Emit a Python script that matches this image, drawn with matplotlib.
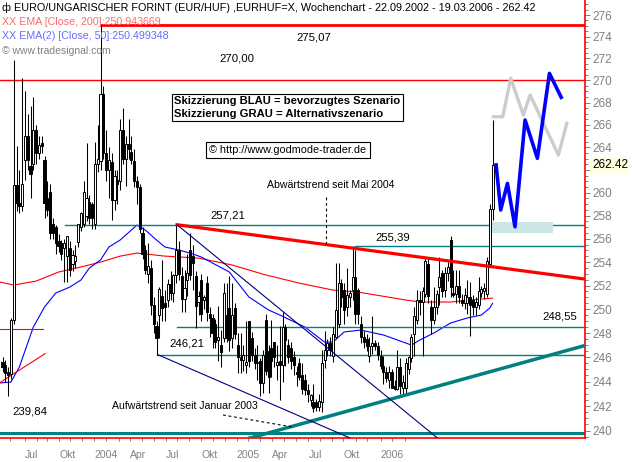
"""EUR/HUF weekly candlestick chart with trend lines and scenario sketch."""

import matplotlib
matplotlib.use("Agg")
import matplotlib.pyplot as plt
import numpy as np
from matplotlib.ticker import FixedLocator, NullFormatter, FuncFormatter
from matplotlib.transforms import blended_transform_factory

plt.rcParams["font.family"] = ["Liberation Sans", "DejaVu Sans"]

# weekly candles (index 0 = first visible week)
opens = [
    245.6, 245.4, 244.8, 244.6, 249.1, 260.7, 259.1, 258.8, 262.9, 265.0,
    262.3, 262.5, 265.5, 263.5, 264.4, 262.9, 259.5, 260.1, 257.3, 257.0,
    255.8, 255.6, 255.2, 254.5, 255.2, 253.8, 254.1, 255.7, 257.0, 257.3,
    258.0, 259.2, 259.0, 257.3, 262.5, 262.8, 268.8, 263.5, 262.0, 262.7,
    259.4, 261.1, 261.0, 265.5, 263.0, 264.3, 263.6, 262.8, 261.0, 260.5,
    256.5, 255.0, 253.0, 253.5, 250.4, 248.6, 249.5, 251.1, 250.5, 250.8,
    252.1, 251.4, 252.9, 255.0, 252.8, 250.9, 252.5, 255.0, 254.5, 252.8,
    250.6, 252.5, 250.8, 252.2, 249.6, 249.3, 248.8, 247.4, 247.0, 247.6,
    249.5, 250.1, 247.6, 250.1, 247.0, 246.0, 245.8, 245.4, 249.0, 247.6,
    246.2, 245.5, 245.7, 243.9, 249.1, 246.5, 246.8, 247.3, 245.4, 245.7,
    245.4, 248.5, 247.0, 246.8, 246.0, 244.8, 245.5, 244.5, 244.1, 243.3,
    242.5, 242.3, 242.3, 241.9, 242.3, 245.8, 246.6, 247.2, 246.1, 247.7,
    248.8, 252.2, 251.6, 250.2, 251.0, 251.6, 252.75, 251.6, 248.8, 247.7,
    247.5, 246.1, 246.9, 247.2, 246.9, 246.1, 245.3, 244.8, 244.1, 244.8,
    243.6, 243.4, 245.2, 243.5, 243.5, 245.0, 245.9, 247.9, 249.1, 250.8,
    250.6, 251.3, 253.8, 250.2, 249.1, 250.2, 251.9, 253.1, 251.6, 253.1,
    255.9, 251.4, 251.3, 252.0, 250.8, 250.5, 250.5, 251.0, 250.8, 250.2,
    250.4, 251.4, 251.5, 251.3, 253.8, 258.6,
]
highs = [
    246.0, 245.8, 245.2, 249.3, 271.9, 264.1, 262.0, 270.2, 269.0, 267.0,
    267.7, 268.5, 266.0, 265.0, 265.0, 263.2, 261.0, 260.8, 257.8, 257.2,
    256.4, 255.9, 256.0, 256.2, 255.8, 255.0, 255.5, 257.3, 258.3, 261.0,
    264.4, 259.8, 259.2, 264.5, 266.0, 275.07, 269.5, 265.5, 264.0, 263.5,
    262.0, 262.0, 266.5, 267.5, 265.0, 266.5, 265.0, 263.8, 261.5, 260.8,
    257.0, 255.5, 255.6, 254.2, 251.0, 249.0, 251.9, 254.2, 251.6, 252.6,
    253.2, 253.0, 257.21, 255.8, 253.6, 253.3, 254.7, 256.5, 255.5, 253.2,
    251.5, 253.0, 251.2, 252.8, 250.2, 249.6, 249.2, 250.3, 248.3, 252.2,
    252.2, 252.8, 252.2, 250.5, 248.0, 248.0, 247.0, 249.0, 249.0, 248.1,
    246.8, 247.0, 245.9, 246.6, 249.6, 247.0, 249.1, 247.3, 247.0, 248.6,
    249.8, 248.8, 247.5, 247.3, 246.5, 245.3, 245.9, 245.5, 244.6, 243.8,
    243.0, 243.8, 242.6, 243.0, 246.6, 248.2, 247.5, 247.7, 248.5, 253.9,
    253.9, 252.6, 252.2, 253.5, 251.6, 255.39, 255.0, 251.8, 249.4, 248.2,
    247.9, 247.7, 249.4, 247.4, 247.3, 246.6, 246.1, 245.2, 245.3, 245.0,
    244.1, 246.6, 245.9, 244.5, 245.9, 246.1, 247.9, 250.2, 251.6, 251.5,
    251.9, 254.4, 254.4, 250.8, 251.9, 251.6, 254.4, 253.3, 253.6, 254.0,
    256.2, 253.3, 253.3, 253.3, 251.3, 251.8, 252.5, 252.3, 251.2, 251.0,
    252.75, 252.0, 252.2, 254.4, 259.0, 266.4,
]
lows = [
    244.8, 244.0, 242.8, 244.2, 248.8, 258.4, 258.2, 258.4, 261.1, 262.0,
    259.5, 262.0, 262.5, 263.0, 263.5, 257.8, 258.0, 256.0, 256.0, 254.7,
    254.9, 254.2, 252.3, 252.3, 252.8, 253.2, 253.5, 255.3, 256.7, 257.0,
    257.5, 257.3, 256.8, 256.8, 261.8, 262.0, 263.0, 261.0, 259.5, 257.6,
    258.5, 259.0, 260.2, 262.5, 260.6, 263.0, 262.5, 260.5, 259.0, 256.5,
    254.3, 253.0, 252.2, 249.5, 248.0, 246.21, 247.6, 249.0, 249.0, 250.2,
    250.8, 250.6, 252.2, 252.5, 249.8, 249.8, 251.1, 252.5, 251.6, 248.4,
    249.5, 249.0, 250.0, 249.0, 247.7, 246.8, 246.8, 245.7, 245.2, 247.3,
    247.3, 246.5, 246.8, 247.5, 244.7, 244.7, 244.9, 244.7, 245.2, 245.7,
    245.0, 244.1, 242.8, 243.1, 244.5, 243.1, 244.4, 245.2, 244.1, 242.5,
    244.0, 245.3, 245.5, 245.0, 244.5, 243.6, 244.1, 243.0, 242.9, 242.3,
    242.0, 241.5, 241.6, 241.6, 241.5, 245.1, 246.1, 246.1, 245.6, 247.5,
    248.5, 250.2, 248.8, 249.4, 250.2, 250.8, 248.8, 248.8, 247.2, 246.8,
    246.5, 245.6, 246.3, 246.6, 245.8, 245.0, 243.8, 244.0, 243.5, 243.5,
    243.3, 243.3, 243.0, 243.0, 243.0, 244.6, 245.6, 246.1, 248.8, 249.5,
    246.1, 251.0, 250.5, 247.9, 248.8, 249.6, 250.4, 251.0, 251.0, 252.4,
    251.0, 251.0, 250.5, 250.5, 250.3, 250.0, 249.6, 247.8, 249.5, 249.5,
    250.0, 251.0, 250.9, 251.0, 253.6, 257.6,
]
closes = [
    245.2, 244.7, 244.5, 249.1, 260.7, 259.1, 258.8, 260.8, 265.0, 262.9,
    261.6, 265.5, 263.5, 264.2, 264.1, 259.1, 258.5, 256.5, 256.5, 255.6,
    255.4, 254.7, 255.6, 256.2, 253.3, 254.6, 254.5, 257.3, 258.2, 260.1,
    259.5, 257.8, 257.8, 262.5, 263.0, 268.8, 263.5, 262.0, 262.9, 259.4,
    261.5, 260.8, 265.5, 263.0, 264.3, 263.8, 262.9, 261.0, 260.5, 256.8,
    254.7, 253.3, 253.7, 250.4, 248.8, 247.6, 251.7, 250.1, 250.2, 252.1,
    251.4, 252.9, 255.0, 253.0, 250.9, 251.8, 253.1, 252.9, 253.9, 250.3,
    251.1, 249.6, 251.0, 249.8, 249.3, 248.0, 247.3, 247.7, 246.4, 251.4,
    247.6, 247.4, 249.5, 247.9, 246.0, 245.8, 246.2, 245.6, 245.7, 246.2,
    245.5, 245.6, 243.9, 246.2, 244.9, 244.4, 245.7, 246.0, 245.6, 245.4,
    248.5, 247.4, 246.0, 245.7, 245.4, 244.6, 244.4, 243.4, 243.3, 243.0,
    242.9, 241.8, 241.9, 242.4, 245.5, 246.6, 247.2, 246.6, 247.9, 249.9,
    252.2, 251.0, 249.9, 251.2, 251.4, 252.75, 249.6, 249.6, 247.7, 247.3,
    246.9, 246.9, 247.2, 246.9, 246.2, 245.3, 244.8, 244.3, 244.8, 243.5,
    243.4, 245.2, 243.6, 244.0, 245.5, 246.0, 247.7, 249.4, 250.8, 250.6,
    251.5, 254.1, 251.1, 249.1, 250.2, 251.3, 252.75, 251.5, 253.1, 253.6,
    251.9, 251.2, 252.0, 251.0, 250.5, 251.2, 251.0, 250.4, 250.2, 250.6,
    251.5, 251.7, 251.8, 254.1, 258.6, 262.42,
]

# moving averages (week index, value)
ema200_idx = [-1, 4, 12, 20, 28, 35, 42, 48, 58, 70, 82, 94, 106, 118, 127, 144, 149, 160, 167, 175]
ema200 = [252.30, 252.05, 252.38, 253.15, 253.58, 254.00, 254.51, 254.77, 254.51, 254.34,
          253.75, 252.90, 252.21, 251.62, 251.45, 250.78, 250.61, 250.61, 250.78, 250.94]
ema50_idx = [-1, 3, 6, 11, 15, 19, 24, 28, 31, 35, 38, 42, 46, 48, 51, 55, 58, 63, 67, 71,
             81, 88, 95, 99, 108, 115, 118, 122, 128, 131, 136, 144, 146, 149, 154, 160, 166, 171, 174, 175]
ema50 = [243.88, 243.96, 245.19, 248.51, 250.19, 251.37, 251.87, 252.47, 253.49, 254.18,
         255.29, 255.89, 256.75, 257.18, 256.75, 255.89, 255.29, 255.03, 254.77, 254.43,
         253.15, 251.03, 249.94, 249.52, 248.51, 247.26, 247.26, 248.10, 248.26, 248.10,
         247.85, 247.18, 247.01, 247.43, 248.01, 248.85, 249.27, 249.52, 250.11, 250.50]

# horizontal levels and the week they start from
red_levels = [275.07, 270.00]
red_level_start = [35, -1]
teal_levels = [257.21, 255.39, 248.55, 246.21]
teal_level_start = [22.3, 125.9, 62.3, 55.2]
jan2003_low = 239.84

# trend lines: (week, value) end points
downtrend = ([62.3, 208.0], [257.21, 252.55])
uptrend = ([88.4, 207.3], [239.41, 246.93])
channel_upper = ([62.3, 155.3], [257.21, 239.41])
channel_lower = ([55.5, 124.1], [246.21, 239.41])

# scenario sketch
blue_idx = [176.25, 177.9, 180.3, 183.0, 186.6, 191.0, 195.3, 199.5]
blue_val = [262.43, 258.49, 260.81, 257.03, 266.43, 263.02, 270.64, 268.47]
gray_idx = [175.3, 178.6, 181.5, 186.0, 188.4, 198.5, 201.5]
gray_val = [266.72, 266.72, 270.19, 266.87, 268.68, 263.31, 266.13]
target_zone = ([174.7, 196.7], 256.49, 257.44)

month_ticks = [2.68, 8.04, 12.2, 15.8, 20.3, 24.1, 28.3, 32.7, 36.96, 41.5, 45.5, 49.7,
               54.1, 58.3, 62.2, 66.7, 70.9, 75.3, 79.5, 83.6, 87.8, 92.0, 96.1, 100.6,
               104.8, 109.2, 113.4, 117.6, 121.7, 126.3, 130.1, 135.0, 139.2, 143.6]
month_labels = {1: "Jul", 4: "Okt", 7: "2004", 10: "Apr", 13: "Jul", 16: "Okt",
                19: "2005", 22: "Apr", 25: "Jul", 28: "Okt", 31: "2006"}
last_price = 262.42

red = "#ff0000"
teal = "#008080"
navy = "#000080"
grey = "#808080"

fig = plt.figure(figsize=(6.32, 4.62), dpi=100)
fig.patch.set_facecolor("white")
ax = fig.add_axes([0, 1 - 438 / 462, 585 / 632, 438 / 462])
ax.set_yscale("log")
ax.set_xlim(-0.9, 208.0)
ax.set_ylim(239.41, 277.40)

# candles
o = np.array(opens)
c = np.array(closes)
h = np.maximum(np.array(highs), np.maximum(o, c))
l = np.minimum(np.array(lows), np.minimum(o, c))
x = np.arange(len(o))
ax.vlines(x, l, h, color="black", linewidth=0.75, zorder=3)
bottoms = np.minimum(o, c)
heights = np.maximum(np.abs(c - o), 0.1)
faces = ["white" if cc >= oo else "black" for oo, cc in zip(o, c)]
ax.bar(x, heights, width=0.75, bottom=bottoms, color=faces,
       edgecolor="black", linewidth=0.7, zorder=4)

# moving averages
ax.plot(ema200_idx, ema200, color=red, linewidth=0.8, zorder=2)
ax.plot(ema50_idx, ema50, color="#0000ff", linewidth=0.8, zorder=2)
ax.plot([-1, 14.5], [248.32, 248.32], color=red, linewidth=0.8, zorder=2)
ax.plot([-1, 15.2], [243.9, 246.3], color=red, linewidth=0.8, zorder=2)

# horizontal levels
for lev, start, lw in zip(red_levels, red_level_start, [2.0, 1.0]):
    ax.plot([start, 208.0], [lev, lev], color=red, linewidth=lw, zorder=2)
for lev, start in zip(teal_levels, teal_level_start):
    ax.plot([start, 208.0], [lev, lev], color=teal, linewidth=1.0, zorder=2)
ax.plot([-1, 208.0], [jan2003_low, jan2003_low], color=teal, linewidth=2.2, zorder=2)

# trend lines
ax.plot(*downtrend, color=red, linewidth=2.3, zorder=5)
ax.plot(*uptrend, color=teal, linewidth=2.5, zorder=5)
ax.plot(*channel_upper, color=navy, linewidth=0.8, zorder=5)
ax.plot(*channel_lower, color=navy, linewidth=0.8, zorder=5)

# dashed pointers
ax.plot([78.75, 103.4], [241.27, 240.30], color="black", linewidth=0.8,
        linestyle=(0, (2.5, 2.5)), zorder=5)
ax.plot([115.5, 115.5], [259.62, 255.63], color="black", linewidth=0.8,
        linestyle=(0, (2.5, 2.5)), zorder=5)

# scenario sketch
ax.fill_between(target_zone[0], target_zone[1], target_zone[2],
                color="#cce5e5", linewidth=0, zorder=5)
ax.plot(gray_idx, gray_val, color="#cccccc", linewidth=2.4, zorder=6)
ax.plot(blue_idx, blue_val, color="#0000ff", linewidth=2.6, zorder=7)

# level labels and notes
for txt, xi, yv in [("270,00", 83.75, 272.04), ("275,07", 111.25, 273.97),
                    ("257,21", 80.4, 258.05), ("255,39", 139.5, 256.15),
                    ("248,55", 199.1, 249.43), ("246,21", 65.8, 247.1),
                    ("239,84", 9.7, 241.55)]:
    ax.text(xi, yv, txt, ha="center", va="center", fontsize=8.2, zorder=8)
ax.text(94.46, 260.67, "Abwärtstrend seit Mai 2004", ha="left", va="center",
        fontsize=7.6, zorder=8)
ax.text(39.1, 242.0, "Aufwärtstrend seit Januar 2003", ha="left", va="center",
        fontsize=7.6, zorder=8)

# axes styling
for side in ["left", "top"]:
    ax.spines[side].set_visible(False)
for side in ["right", "bottom"]:
    ax.spines[side].set_color(red)
    ax.spines[side].set_linewidth(1.2)

ax.yaxis.tick_right()
ax.yaxis.set_major_locator(FixedLocator(np.arange(240, 277, 2)))
# the 262 label sits under the last-price box, as in the original
ax.yaxis.set_major_formatter(FuncFormatter(
    lambda v, p: "" if abs(v - round(last_price)) < 0.01 else f"{v:.0f}"))
ax.yaxis.set_minor_locator(FixedLocator(np.arange(239.5, 277.5, 0.5)))
ax.yaxis.set_minor_formatter(NullFormatter())
ax.tick_params(axis="y", which="major", length=3.5, width=0.7, color=grey,
               labelcolor=grey, labelsize=8.5, pad=1.5)
ax.tick_params(axis="y", which="minor", length=2, width=0.7, color=grey)

label_pos = sorted(month_labels)
ax.set_xticks([month_ticks[k] for k in label_pos])
ax.set_xticklabels([month_labels[k] for k in label_pos])
ax.set_xticks(month_ticks, minor=True)
ax.tick_params(axis="x", which="both", length=2.5, width=0.7, color=grey,
               labelcolor=grey, labelsize=7.5, pad=6)
for lab in ax.get_xticklabels():
    lab.set_horizontalalignment("left")

# current price marker
trans = blended_transform_factory(ax.transAxes, ax.transData)
ax.text(1.012, last_price, f"{last_price:.2f}", transform=trans, ha="left", va="center",
        fontsize=8.5, color="black", zorder=9, clip_on=False,
        bbox=dict(facecolor="#ffffe0", edgecolor="none", pad=1.2))

# header and legend
fig.text(2 / 632, 1 - 8 / 462,
         "ф EURO/UNGARISCHER FORINT (EUR/HUF) ,EURHUF=X, Wochenchart - 22.09.2002 - 19.03.2006 - 262.42",
         ha="left", va="center", fontsize=7.8)
fig.text(2 / 632, 1 - 22 / 462, "XX EMA [Close, 200]:250.943669",
         ha="left", va="center", fontsize=7.7, color="#ff6a6a")
fig.text(2 / 632, 1 - 36 / 462, "XX EMA(2) [Close, 50]:250.499348",
         ha="left", va="center", fontsize=7.7, color="#6a6aff")
fig.text(2 / 632, 1 - 51 / 462, "© www.tradesignal.com",
         ha="left", va="center", fontsize=7.5, color=grey)

fig.text(174 / 632, 1 - 107.5 / 462,
         "Skizzierung BLAU = bevorzugtes Szenario\nSkizzierung GRAU = Alternativszenario",
         ha="left", va="center", fontsize=8.1, fontweight="bold", linespacing=1.35,
         bbox=dict(facecolor="white", edgecolor="black", linewidth=0.8,
                   boxstyle="square,pad=0.22"))
fig.text(288 / 632, 1 - 150 / 462, "© http://www.godmode-trader.de",
         ha="center", va="center", fontsize=7.8,
         bbox=dict(facecolor="white", edgecolor="black", linewidth=0.8,
                   boxstyle="square,pad=0.3"))

fig.savefig("out.png", dpi=100)
